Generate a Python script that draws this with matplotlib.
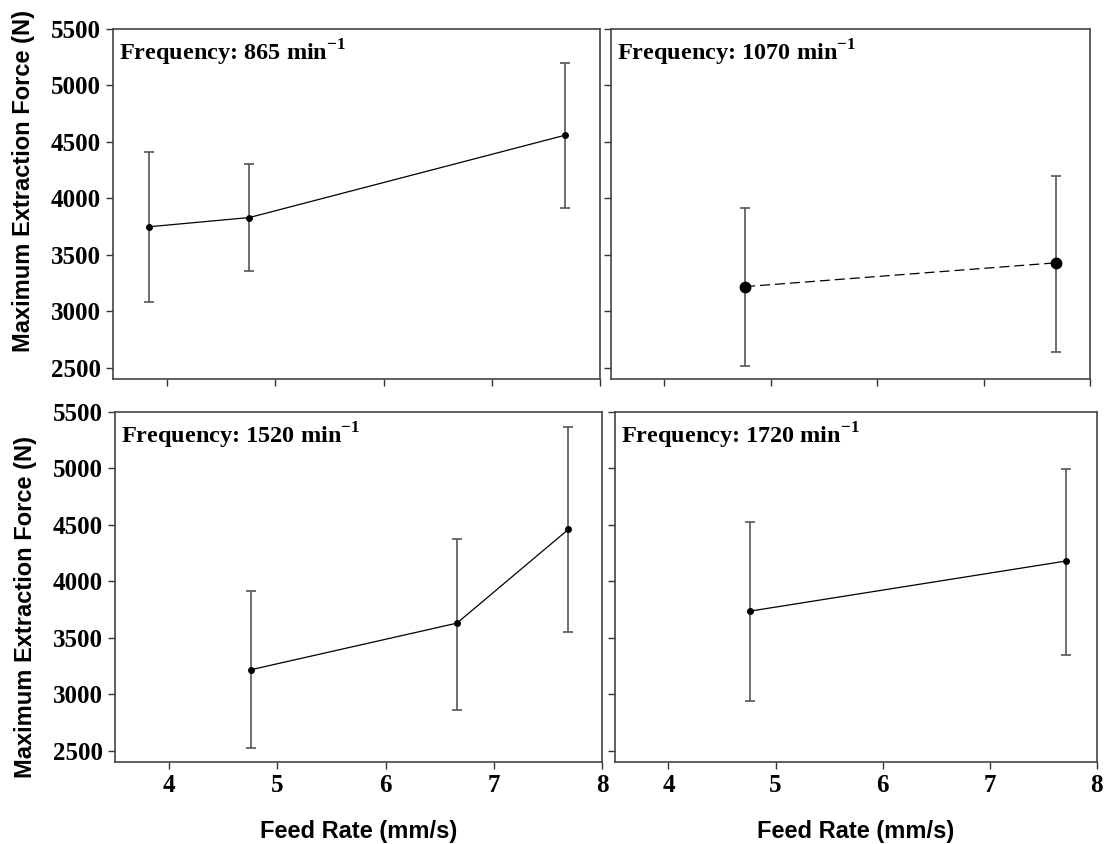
import matplotlib
matplotlib.use("Agg")
import matplotlib.pyplot as plt

# feed rate (mm/s), mean max extraction force (N), error bar low / high
freqs = ["865", "1070", "1520", "1720"]

x_865 = [3.83, 4.76, 7.68]
y_865 = [3748, 3830, 4560]
lo_865 = [3084, 3352, 3913]
hi_865 = [4411, 4303, 5197]

x_1070 = [4.76, 7.68]
y_1070 = [3218, 3429]
lo_1070 = [2518, 2638]
hi_1070 = [3912, 4201]

x_1520 = [4.76, 6.66, 7.69]
y_1520 = [3218, 3630, 4461]
lo_1520 = [2520, 2861, 3550]
hi_1520 = [3914, 4379, 5370]

x_1720 = [4.76, 7.71]
y_1720 = [3736, 4180]
lo_1720 = [2941, 3352]
hi_1720 = [4523, 4997]

xticks = [4, 5, 6, 7, 8]
yticks = [2500, 3000, 3500, 4000, 4500, 5000, 5500]

plt.rcParams["mathtext.fontset"] = "custom"
plt.rcParams["mathtext.rm"] = "Liberation Serif:bold"
plt.rcParams["mathtext.bf"] = "Liberation Serif:bold"

fig = plt.figure(figsize=(11.08, 8.44), dpi=100)
boxes = [[0.102, 0.551, 0.4395, 0.4146],
         [0.5514, 0.551, 0.4324, 0.4146],
         [0.1038, 0.0972, 0.4395, 0.4146],
         [0.555, 0.0972, 0.435, 0.4146]]
series = [(x_865, y_865, lo_865, hi_865, "-", 4),
          (x_1070, y_1070, lo_1070, hi_1070, (0, (8, 4)), 7.5),
          (x_1520, y_1520, lo_1520, hi_1520, "-", 4),
          (x_1720, y_1720, lo_1720, hi_1720, "-", 4)]
ylab_pos = {0: 0.566, 2: 0.443}

for i, (box, s, f) in enumerate(zip(boxes, series, freqs)):
    ax = fig.add_axes(box)
    x, y, lo, hi, ls, ms = s
    err = [[a - b for a, b in zip(y, lo)], [b - a for a, b in zip(y, hi)]]
    ax.errorbar(x, y, yerr=err, fmt="none", ecolor="#555555",
                elinewidth=1.2, capsize=3.8, capthick=1.2, zorder=2)
    ax.plot(x, y, color="black", linestyle=ls, linewidth=0.9,
            marker="o", markersize=ms, zorder=3)
    ax.set_xlim(3.5, 8.0)
    ax.set_ylim(2400, 5500)
    ax.set_xticks(xticks)
    ax.set_yticks(yticks)
    ax.tick_params(direction="out", length=5, width=1, color="#333333")
    for sp in ax.spines.values():
        sp.set_color("#444444")
        sp.set_linewidth(1.2)
    ax.text(0.012, 0.975, "Frequency: " + f + r" min$^{-1}$",
            transform=ax.transAxes, ha="left", va="top",
            family="Liberation Serif", fontweight="bold", fontsize=17.5)
    if i % 2 == 0:
        ax.set_yticklabels([str(t) for t in yticks], family="Liberation Serif",
                           fontweight="bold", fontsize=18)
        ax.set_ylabel("Maximum Extraction Force (N)", family="Liberation Sans",
                      fontweight="bold", fontsize=17)
        ax.yaxis.set_label_coords(-0.16, ylab_pos[i])
    else:
        ax.set_yticklabels([])
    if i >= 2:
        ax.set_xticklabels([str(t) for t in xticks], family="Liberation Serif",
                           fontweight="bold", fontsize=18)
        ax.set_xlabel("Feed Rate (mm/s)", family="Liberation Sans",
                      fontweight="bold", fontsize=17, labelpad=17)
    else:
        ax.set_xticklabels([])

fig.savefig("out.png", dpi=100)
